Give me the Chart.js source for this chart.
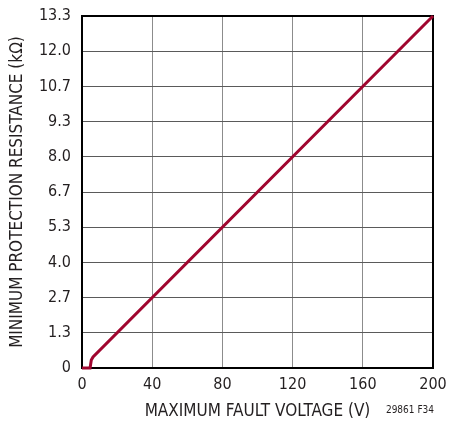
<!DOCTYPE html>
<html>
<head>
<meta charset="utf-8">
<script src="https://cdn.jsdelivr.net/npm/chart.js@4.4.1/dist/chart.umd.min.js"></script>
<style>
html,body{margin:0;padding:0;background:#fff;}
canvas{display:block;}
</style>
</head>
<body>
<canvas id="c" width="449" height="422"></canvas>
<script>
const faultVoltage = [0, 4.6, 5.3, 6.3, 200];
const minResistance = [0, 0, 0.3, 0.42, 13.333];
const xTickLabels = ['0', '40', '80', '120', '160', '200'];
const yTickLabels = ['0', '1.3', '2.7', '4.0', '5.3', '6.7', '8.0', '9.3', '10.7', '12.0', '13.3'];
const xTitle = 'MAXIMUM FAULT VOLTAGE (V)';
const yTitle = 'MINIMUM PROTECTION RESISTANCE (kΩ)';
const footnote = '29861 F34';

const FONT = "'Liberation Sans Narrow', 'DejaVu Sans Condensed', 'Liberation Sans', sans-serif";

const frame = {
  id: 'frame',
  beforeDatasetsDraw(chart) {
    const {ctx, chartArea: a} = chart;
    ctx.save();
    ctx.strokeStyle = '#000';
    ctx.lineWidth = 2;
    ctx.strokeRect(a.left, a.top, a.right - a.left, a.bottom - a.top);
    ctx.restore();
  },
  afterDraw(chart) {
    const {ctx} = chart;
    ctx.save();
    ctx.fillStyle = '#231f20';
    ctx.font = '10px ' + FONT;
    ctx.textAlign = 'right';
    ctx.textBaseline = 'middle';
    ctx.fillText(footnote, 434, 410);
    ctx.restore();
  }
};

new Chart(document.getElementById('c'), {
  type: 'scatter',
  data: {
    datasets: [{
      data: faultVoltage.map((v, i) => ({x: v, y: minResistance[i]})),
      showLine: true,
      borderColor: '#a0062f',
      borderWidth: 3,
      pointRadius: 0,
      tension: 0,
      fill: false,
      clip: 3
    }]
  },
  options: {
    responsive: false,
    animation: false,
    layout: {padding: {top: 16, right: 16, bottom: 0, left: 0}},
    plugins: {legend: {display: false}, tooltip: {enabled: false}},
    scales: {
      x: {
        type: 'linear',
        min: 0, max: 200,
        afterBuildTicks(s) { s.ticks = xTickLabels.map(t => ({value: Number(t)})); },
        afterFit(s) { s.height = 54; s.paddingLeft = 0; s.paddingRight = 0; },
        ticks: {
          callback: (v, i) => xTickLabels[i],
          color: '#231f20',
          font: {family: FONT, size: 16},
          padding: 7,
          maxRotation: 0,
          autoSkip: false
        },
        grid: {color: '#8c8c8c', lineWidth: 1, drawTicks: false},
        border: {display: false},
        title: {
          display: true, text: xTitle, color: '#231f20',
          font: {family: FONT, size: 17},
          padding: {top: 3, bottom: 0}
        }
      },
      y: {
        type: 'linear',
        min: 0, max: 40 / 3,
        afterBuildTicks(s) { s.ticks = yTickLabels.map((t, i) => ({value: i * 4 / 3})); },
        afterFit(s) { s.width = 82; s.paddingTop = 0; s.paddingBottom = 0; },
        ticks: {
          callback: (v, i) => yTickLabels[i],
          color: '#231f20',
          font: {family: FONT, size: 16},
          padding: 11,
          autoSkip: false
        },
        grid: {color: '#5a5a5a', lineWidth: 1, drawTicks: false},
        border: {display: false},
        title: {
          display: true, text: yTitle, color: '#231f20',
          font: {family: FONT, size: 17},
          padding: {top: 7, bottom: 0}
        }
      }
    }
  },
  plugins: [frame]
});
</script>
</body>
</html>
